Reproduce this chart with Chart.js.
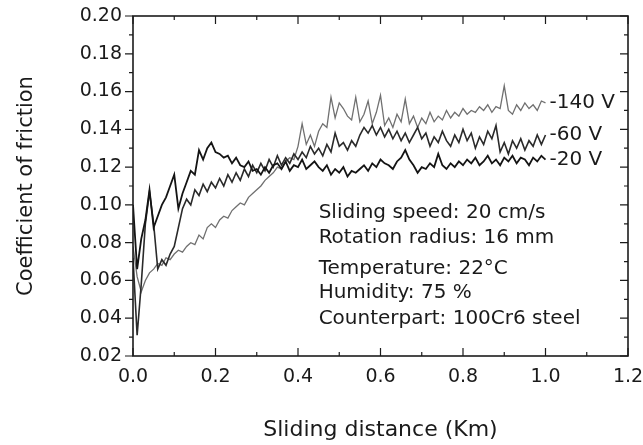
<!DOCTYPE html>
<html>
<head>
<meta charset="utf-8">
<script src="https://cdn.jsdelivr.net/npm/chart.js@4.4.1/dist/chart.umd.min.js"></script>
<style>
  html, body { margin: 0; padding: 0; background: #fff; }
  canvas { display: block; }
</style>
</head>
<body>
<canvas id="friction" width="643" height="445"></canvas>
<script>
// sliding distance (km), one reading every 10 m
var distance = [
  0.00, 0.01, 0.02, 0.03, 0.04, 0.05, 0.06, 0.07, 0.08, 0.09,
  0.10, 0.11, 0.12, 0.13, 0.14, 0.15, 0.16, 0.17, 0.18, 0.19,
  0.20, 0.21, 0.22, 0.23, 0.24, 0.25, 0.26, 0.27, 0.28, 0.29,
  0.30, 0.31, 0.32, 0.33, 0.34, 0.35, 0.36, 0.37, 0.38, 0.39,
  0.40, 0.41, 0.42, 0.43, 0.44, 0.45, 0.46, 0.47, 0.48, 0.49,
  0.50, 0.51, 0.52, 0.53, 0.54, 0.55, 0.56, 0.57, 0.58, 0.59,
  0.60, 0.61, 0.62, 0.63, 0.64, 0.65, 0.66, 0.67, 0.68, 0.69,
  0.70, 0.71, 0.72, 0.73, 0.74, 0.75, 0.76, 0.77, 0.78, 0.79,
  0.80, 0.81, 0.82, 0.83, 0.84, 0.85, 0.86, 0.87, 0.88, 0.89,
  0.90, 0.91, 0.92, 0.93, 0.94, 0.95, 0.96, 0.97, 0.98, 0.99,
  1.00
];

// coefficient of friction for each bias voltage
var bias20 = [
  0.100, 0.066, 0.082, 0.092, 0.108, 0.088, 0.094, 0.100, 0.104, 0.110,
  0.116, 0.098, 0.106, 0.112, 0.118, 0.116, 0.129, 0.124, 0.130, 0.133,
  0.128, 0.127, 0.125, 0.126, 0.122, 0.125, 0.121, 0.120, 0.123, 0.118,
  0.119, 0.116, 0.120, 0.117, 0.121, 0.122, 0.119, 0.123, 0.118, 0.121,
  0.120, 0.124, 0.119, 0.121, 0.123, 0.120, 0.118, 0.121, 0.116, 0.119,
  0.117, 0.120, 0.115, 0.118, 0.117, 0.119, 0.121, 0.118, 0.122, 0.120,
  0.124, 0.122, 0.121, 0.119, 0.123, 0.125, 0.129, 0.124, 0.121, 0.117,
  0.120, 0.119, 0.122, 0.120, 0.127, 0.121, 0.119, 0.122, 0.120, 0.123,
  0.121, 0.124, 0.122, 0.125, 0.121, 0.123, 0.126, 0.122, 0.124, 0.121,
  0.125, 0.123, 0.126, 0.122, 0.125, 0.124, 0.121, 0.125, 0.123, 0.126,
  0.124
];
var bias60 = [
  0.072, 0.031, 0.058, 0.090, 0.107, 0.090, 0.066, 0.071, 0.068, 0.074,
  0.078, 0.088, 0.098, 0.103, 0.100, 0.108, 0.105, 0.111, 0.107, 0.112,
  0.109, 0.114, 0.110, 0.116, 0.112, 0.117, 0.113, 0.119, 0.115, 0.121,
  0.117, 0.122, 0.118, 0.124, 0.120, 0.126, 0.121, 0.125, 0.122, 0.127,
  0.124, 0.128, 0.125, 0.131, 0.127, 0.130, 0.126, 0.132, 0.128, 0.138,
  0.131, 0.133, 0.129, 0.134, 0.131, 0.137, 0.141, 0.138, 0.142, 0.137,
  0.141, 0.136, 0.140, 0.135, 0.139, 0.134, 0.138, 0.133, 0.137, 0.141,
  0.135, 0.138, 0.131, 0.136, 0.133, 0.139, 0.134, 0.131, 0.137, 0.133,
  0.140, 0.134, 0.138, 0.130, 0.136, 0.132, 0.139, 0.135, 0.142, 0.128,
  0.133, 0.127, 0.134, 0.130, 0.135, 0.129, 0.134, 0.131, 0.137, 0.132,
  0.137
];
var bias140 = [
  0.078, 0.062, 0.054, 0.060, 0.064, 0.066, 0.069, 0.068, 0.072, 0.071,
  0.074, 0.076, 0.075, 0.078, 0.080, 0.079, 0.084, 0.082, 0.088, 0.090,
  0.088, 0.092, 0.094, 0.093, 0.097, 0.099, 0.101, 0.100, 0.104, 0.106,
  0.108, 0.110, 0.113, 0.115, 0.117, 0.120, 0.119, 0.123, 0.125, 0.124,
  0.131, 0.143, 0.132, 0.137, 0.131, 0.139, 0.143, 0.141, 0.157, 0.146,
  0.154, 0.151, 0.147, 0.145, 0.157, 0.144, 0.148, 0.155, 0.143, 0.149,
  0.158, 0.142, 0.146, 0.141, 0.148, 0.144, 0.156, 0.143, 0.147, 0.141,
  0.146, 0.143, 0.149, 0.144, 0.147, 0.145, 0.150, 0.146, 0.149, 0.147,
  0.151, 0.148, 0.150, 0.149, 0.152, 0.150, 0.153, 0.149, 0.152, 0.151,
  0.163, 0.150, 0.148, 0.153, 0.150, 0.154, 0.151, 0.153, 0.150, 0.155,
  0.154
];

var seriesNames = ['-20 V', '-60 V', '-140 V'];
var seriesColors = ['#141414', '#2a2a2a', '#707070'];
var seriesWidths = [1.8, 1.6, 1.3];

var notes = [
  'Sliding speed: 20 cm/s',
  'Rotation radius: 16 mm',
  'Temperature: 22\u00B0C',
  'Humidity: 75 %',
  'Counterpart: 100Cr6 steel'
];
var noteLineOffsets = [0, 25, 56, 80, 106];

var FONT = "'DejaVu Sans', sans-serif";

function points(values) {
  return values.map(function (v, i) { return { x: distance[i], y: v }; });
}

// box round the plot, minor and major tick marks, labels
var decorations = {
  id: 'decorations',
  afterDatasetsDraw: function (chart) {
    var c = chart.ctx, a = chart.chartArea;
    var xs = chart.scales.x, ys = chart.scales.y;
    c.save();

    c.strokeStyle = '#1c1c1c';
    c.lineWidth = 1.2;
    c.beginPath();
    for (var i = 0; i <= 18; i++) {
      var py = ys.getPixelForValue(0.02 + i * 0.01);
      var len = i % 2 === 0 ? 8 : 4;
      c.moveTo(a.left - len, py); c.lineTo(a.left, py);
      c.moveTo(a.right - len, py); c.lineTo(a.right, py);
    }
    for (var j = 0; j <= 12; j++) {
      var px = xs.getPixelForValue(j * 0.1);
      var l2 = j % 2 === 0 ? 8 : 4;
      c.moveTo(px, a.bottom); c.lineTo(px, a.bottom - l2);
      c.moveTo(px, a.top); c.lineTo(px, a.top + l2);
    }
    c.stroke();
    c.lineWidth = 1.6;
    c.strokeRect(a.left, a.top, a.right - a.left, a.bottom - a.top);

    // series names next to the line ends
    c.fillStyle = '#1a1a1a';
    c.font = '20px ' + FONT;
    c.textAlign = 'left';
    c.textBaseline = 'middle';
    chart.data.datasets.forEach(function (ds, k) {
      var pts = chart.getDatasetMeta(k).data;
      var last = pts[pts.length - 1];
      c.fillText(ds.label, last.x + 4, last.y);
    });

    // test conditions
    var nx = xs.getPixelForValue(0.45), ny = ys.getPixelForValue(0.096);
    notes.forEach(function (t, k) {
      c.fillText(t, nx, ny + noteLineOffsets[k]);
    });
    c.restore();
  }
};

new Chart(document.getElementById('friction'), {
  type: 'line',
  data: {
    datasets: seriesNames.map(function (name, k) {
      return {
        label: name,
        data: points([bias20, bias60, bias140][k]),
        borderColor: seriesColors[k],
        borderWidth: seriesWidths[k]
      };
    })
  },
  options: {
    responsive: false,
    animation: false,
    layout: { padding: { left: 0, top: 16, right: 15, bottom: 0 } },
    elements: {
      line: { tension: 0 },
      point: { radius: 0 }
    },
    plugins: {
      legend: { display: false },
      tooltip: { enabled: false }
    },
    scales: {
      x: {
        type: 'linear',
        min: 0,
        max: 1.2,
        border: { display: false },
        grid: { display: false, drawTicks: false },
        ticks: {
          stepSize: 0.2,
          padding: 10,
          color: '#1a1a1a',
          font: { family: FONT, size: 19 },
          maxRotation: 0,
          callback: function (v) { return v.toFixed(1); }
        },
        title: {
          display: true,
          text: 'Sliding distance (Km)',
          color: '#1a1a1a',
          font: { family: FONT, size: 22 },
          padding: { top: 2, bottom: 2 }
        },
        afterFit: function (s) { s.height = 89; s.paddingLeft = 0; s.paddingRight = 0; }
      },
      y: {
        min: 0.02,
        max: 0.20,
        border: { display: false },
        grid: { display: false, drawTicks: false },
        ticks: {
          stepSize: 0.02,
          padding: 11,
          color: '#1a1a1a',
          font: { family: FONT, size: 19 },
          callback: function (v) { return v.toFixed(2); }
        },
        title: {
          display: true,
          text: 'Coefficient of friction',
          color: '#1a1a1a',
          font: { family: FONT, size: 21 },
          padding: { top: 14, bottom: 14 }
        },
        afterFit: function (s) { s.width = 133; s.paddingTop = 0; s.paddingBottom = 0; }
      }
    }
  },
  plugins: [decorations]
});
</script>
</body>
</html>
